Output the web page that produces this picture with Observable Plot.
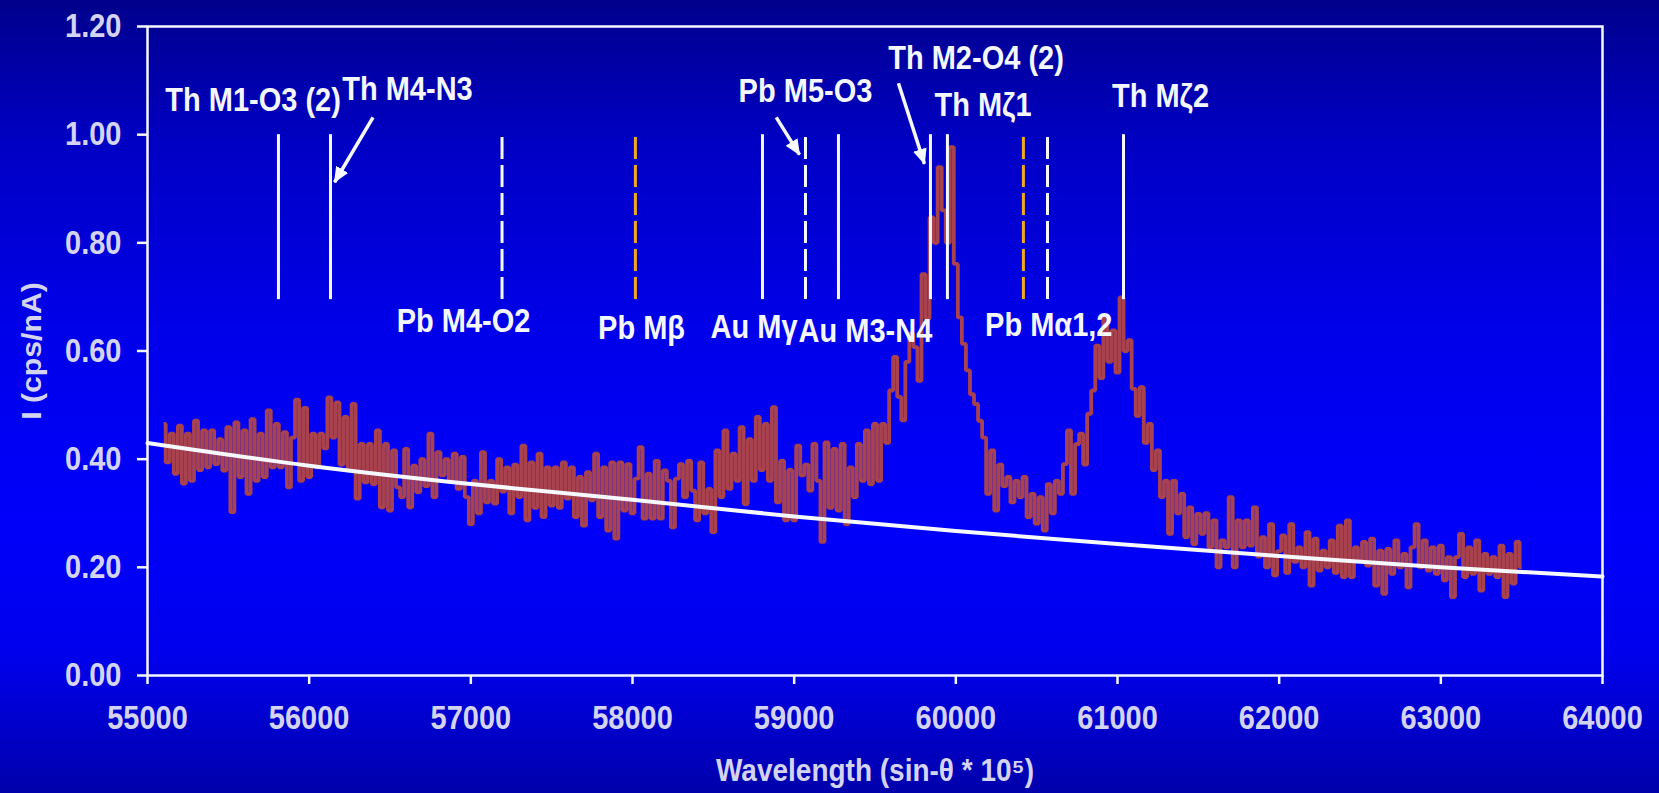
<!DOCTYPE html>
<html>
<head>
<meta charset="utf-8">
<script src="https://cdn.jsdelivr.net/npm/d3@7"></script>
<script src="https://cdn.jsdelivr.net/npm/@observablehq/plot@0.6"></script>
<style>
  html, body { margin: 0; padding: 0; width: 1659px; height: 793px; overflow: hidden; }
  body {
    background: linear-gradient(to bottom, #00008c 0%, #0000c4 18%, #0000ea 42%, #0000fb 65%, #0000ee 82%, #0000ac 100%);
  }
  #chart svg { display: block; }
</style>
</head>
<body>
<div id="chart"></div>
<script>
// ---------- data ----------
const wlStart = 55100;      // first wavelength of the scan
const wlStep = 25;          // scan step
// measured intensity (cps/nA), one value per step from 55100 to 63500
const intensity = [
  0.465, 0.394, 0.447, 0.373, 0.462, 0.355, 0.447, 0.36,
  0.471, 0.38, 0.453, 0.385, 0.453, 0.391, 0.437, 0.379,
  0.459, 0.302, 0.468, 0.367, 0.453, 0.336, 0.474, 0.36,
  0.447, 0.367, 0.49, 0.385, 0.465, 0.385, 0.45, 0.348,
  0.44, 0.51, 0.36, 0.495, 0.367, 0.447, 0.385, 0.447,
  0.42, 0.514, 0.44, 0.505, 0.39, 0.478, 0.379, 0.502,
  0.327, 0.428, 0.357, 0.428, 0.354, 0.453, 0.311, 0.428,
  0.305, 0.416, 0.348, 0.33, 0.419, 0.311, 0.388, 0.339,
  0.40, 0.35, 0.447, 0.33, 0.413, 0.37, 0.40, 0.36,
  0.41, 0.345, 0.404, 0.33, 0.28, 0.36, 0.30, 0.413,
  0.32, 0.36, 0.318, 0.40, 0.34, 0.385, 0.30, 0.39,
  0.33, 0.425, 0.287, 0.394, 0.31, 0.41, 0.293, 0.385,
  0.314, 0.385, 0.31, 0.394, 0.327, 0.385, 0.293, 0.367,
  0.277, 0.376, 0.324, 0.41, 0.293, 0.385, 0.268, 0.394,
  0.253, 0.394, 0.305, 0.391, 0.30, 0.364, 0.422, 0.29,
  0.373, 0.29, 0.397, 0.29, 0.379, 0.36, 0.274, 0.364,
  0.391, 0.33, 0.397, 0.342, 0.287, 0.394, 0.30, 0.345,
  0.265, 0.416, 0.33, 0.453, 0.345, 0.41, 0.36, 0.459,
  0.317, 0.437, 0.36, 0.478, 0.38, 0.465, 0.36, 0.496,
  0.32, 0.397, 0.287, 0.38, 0.287, 0.425, 0.37, 0.39,
  0.342, 0.428, 0.36, 0.247, 0.431, 0.31, 0.419, 0.305,
  0.428, 0.28, 0.385, 0.33, 0.428, 0.36, 0.453, 0.354,
  0.465, 0.36, 0.465, 0.43, 0.527, 0.589, 0.515, 0.472,
  0.58, 0.632, 0.607, 0.545, 0.742, 0.66, 0.847, 0.80,
  0.94, 0.86, 0.80, 0.977, 0.761, 0.662, 0.613, 0.564,
  0.52, 0.502, 0.471, 0.44, 0.336, 0.416, 0.305, 0.39,
  0.35, 0.367, 0.32, 0.36, 0.33, 0.367, 0.293, 0.336,
  0.281, 0.33, 0.268, 0.354, 0.30, 0.36, 0.336, 0.391,
  0.453, 0.336, 0.428, 0.447, 0.39, 0.484, 0.527, 0.61,
  0.55, 0.662, 0.58, 0.638, 0.56, 0.699, 0.60, 0.62,
  0.53, 0.48, 0.533, 0.43, 0.465, 0.38, 0.416, 0.33,
  0.36, 0.262, 0.36, 0.30, 0.336, 0.256, 0.311, 0.243,
  0.299, 0.262, 0.30, 0.237, 0.287, 0.20, 0.25, 0.237,
  0.33, 0.20, 0.287, 0.237, 0.287, 0.24, 0.311, 0.22,
  0.256, 0.20, 0.28, 0.185, 0.23, 0.259, 0.19, 0.28,
  0.21, 0.237, 0.20, 0.265, 0.166, 0.253, 0.194, 0.231,
  0.20, 0.25, 0.19, 0.277, 0.182, 0.287, 0.182, 0.237,
  0.213, 0.247, 0.203, 0.253, 0.166, 0.231, 0.151, 0.234,
  0.188, 0.25, 0.20, 0.225, 0.163, 0.237, 0.28, 0.20,
  0.25, 0.194, 0.237, 0.188, 0.24, 0.176, 0.219, 0.145,
  0.219, 0.262, 0.182, 0.237, 0.188, 0.25, 0.157, 0.225,
  0.188, 0.219, 0.182, 0.24, 0.145, 0.225, 0.17, 0.247,
  0.20
];

// fitted background (white curve)
const bgWavelength = [55000, 56000, 57000, 58000, 59000, 60000, 61000, 62000, 63000, 64000];
const bgIntensity  = [0.430, 0.388, 0.354, 0.325, 0.294, 0.267, 0.243, 0.221, 0.200, 0.183];

// line markers
const markerWavelength = [55810, 56132, 57193, 58018, 58804, 59070, 59274, 59843, 59948, 60418, 60567, 61037];
const markerStyle = ["solid", "solid", "dashed", "orange", "solid", "dashed", "solid", "solid", "solid", "orange", "dashed", "solid"];

// labels
const labelText = ["Th M1-O3 (2)", "Th M4-N3", "Pb M4-O2", "Pb Mβ", "Au Mγ", "Au M3-N4", "Pb M5-O3", "Th M2-O4 (2)", "Th Mζ1", "Pb Mα1,2", "Th Mζ2"];
const labelWavelength = [55653, 56608, 56955, 58056, 58752, 59441, 59070, 60125, 60168, 60575, 61266];
const labelIntensity = [1.044, 1.065, 0.635, 0.623, 0.624, 0.616, 1.060, 1.121, 1.035, 0.628, 1.052];

// arrows (tail -> tip)
const arrowX1 = [56395, 58889, 59645];
const arrowY1 = [1.032, 1.032, 1.095];
const arrowX2 = [56157, 59033, 59806];
const arrowY2 = [0.912, 0.963, 0.946];

const xTicks = [55000, 56000, 57000, 58000, 59000, 60000, 61000, 62000, 63000, 64000];
const yTicks = [0, 0.2, 0.4, 0.6, 0.8, 1.0, 1.2];
const xTitle = "Wavelength (sin-θ * 10⁵)";
const yTitle = "I (cps/nA)";

// ---------- build ----------
const FONT = "'Liberation Sans', Arial, sans-serif";
const spectrum = intensity.map((v, i) => ({x: wlStart + i * wlStep, y: v}));
const background = bgWavelength.map((x, i) => ({x, y: bgIntensity[i]}));
const markers = markerWavelength.map((x, i) => ({x, s: markerStyle[i]}));
const labels = labelText.map((t, i) => ({t, x: labelWavelength[i], y: labelIntensity[i]}));
const arrows = arrowX1.map((x1, i) => ({x1, y1: arrowY1[i], x2: arrowX2[i], y2: arrowY2[i]}));

const lav = "#d4d4f2";
const white = "#f6f8ff";
const chart = Plot.plot({
  width: 1659,
  height: 793,
  marginLeft: 147,
  marginRight: 57,
  marginTop: 26,
  marginBottom: 118,
  style: {background: "transparent", fontFamily: FONT, fontWeight: "bold", fontSize: "29px", overflow: "visible"},
  x: {domain: [55000, 64000]},
  y: {domain: [0, 1.2]},
  marks: [
    Plot.line(spectrum, {x: "x", y: "y", stroke: "#a8424f", strokeWidth: 3.8, curve: "step", strokeLinejoin: "miter", strokeLinecap: "butt"}),
    Plot.line(background, {x: "x", y: "y", stroke: white, strokeWidth: 4, curve: "monotone-x"}),
    Plot.ruleX(markers.filter(d => d.s === "solid"), {x: "x", y1: 0.695, y2: 1.0, stroke: white, strokeWidth: 3}),
    Plot.ruleX(markers.filter(d => d.s === "dashed"), {x: "x", y1: 0.695, y2: 0.996, stroke: white, strokeWidth: 3, strokeDasharray: "22 6", strokeLinecap: "butt"}),
    Plot.ruleX(markers.filter(d => d.s === "orange"), {x: "x", y1: 0.695, y2: 0.996, stroke: "#f2a81d", strokeWidth: 3, strokeDasharray: "22 6", strokeLinecap: "butt"}),
    Plot.link(arrows, {x1: "x1", y1: "y1", x2: "x2", y2: "y2", stroke: white, strokeWidth: 3.5}),
    Plot.text(labels, {x: "x", y: "y", text: "t", fill: "#f4f7ff", fontSize: 29, fontWeight: "bold", textAnchor: "middle", lineAnchor: "bottom"}),
    Plot.axisX({ticks: xTicks, tickFormat: d => String(d), tickSize: 9, tickPadding: 21, stroke: white, strokeWidth: 2.5, fill: lav, label: null}),
    Plot.axisY({ticks: yTicks, tickFormat: d3.format(".2f"), tickSize: 10, tickPadding: 16, stroke: white, strokeWidth: 2.5, fill: lav, label: null}),
    Plot.frame({stroke: white, strokeWidth: 2.5}),
    Plot.text([xTitle], {frameAnchor: "bottom", text: d => d, dy: 105, lineAnchor: "bottom", textAnchor: "middle", fill: lav, fontSize: 28, fontWeight: "bold"}),
    Plot.text([yTitle], {frameAnchor: "left", text: d => d, dx: -115, rotate: -90, lineAnchor: "middle", textAnchor: "middle", fill: lav, fontSize: 28, fontWeight: "bold"})
  ]
});

// filled arrowheads on the annotation links
const NS = "http://www.w3.org/2000/svg";
const defs = document.createElementNS(NS, "defs");
const marker = document.createElementNS(NS, "marker");
marker.setAttribute("id", "ahead");
marker.setAttribute("viewBox", "0 0 16 14");
marker.setAttribute("refX", "15");
marker.setAttribute("refY", "7");
marker.setAttribute("markerWidth", "16");
marker.setAttribute("markerHeight", "14");
marker.setAttribute("markerUnits", "userSpaceOnUse");
marker.setAttribute("orient", "auto");
const head = document.createElementNS(NS, "path");
head.setAttribute("d", "M0,0 L16,7 L0,14 Z");
head.setAttribute("fill", white);
marker.appendChild(head);
defs.appendChild(marker);
chart.insertBefore(defs, chart.firstChild);
chart.querySelectorAll('g[aria-label="link"] path').forEach(p => p.setAttribute("marker-end", "url(#ahead)"));

// the reference lettering is tall and narrow: stretch glyphs vertically
const isPx = v => v !== null && v !== "" && !/em$/.test(v.trim());
chart.querySelectorAll("text").forEach(t => {
  let tr = t.getAttribute("transform") || "";
  const x = t.getAttribute("x"), y = t.getAttribute("y");
  const xPx = isPx(x) ? parseFloat(x) || 0 : 0;
  const yPx = isPx(y) ? parseFloat(y) || 0 : 0;
  if (xPx || yPx) tr += ` translate(${xPx},${yPx})`;
  if (isPx(x)) t.removeAttribute("x");
  if (isPx(y)) t.removeAttribute("y");
  if (/rotate/.test(tr)) t.setAttribute("transform", tr + " scale(1.08,1)");
  else t.setAttribute("transform", tr + " scale(1,1.15)");
});
document.getElementById("chart").appendChild(chart);
</script>
</body>
</html>
